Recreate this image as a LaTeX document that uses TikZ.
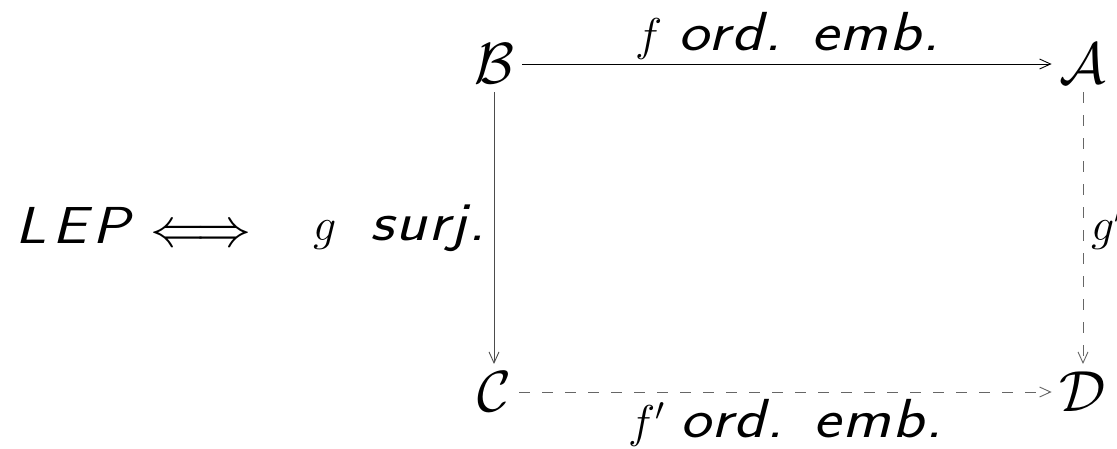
\RequirePackage{fix-cm}
\documentclass[tikz,border=0pt]{standalone}
\usepackage{fontspec}
\usetikzlibrary{arrows.meta}

\newfontfamily\lblfont{lmsans17-oblique.otf}[FakeStretch=1.18, LetterSpace=3]
\newcommand{\objsz}{\fontsize{58}{62}\selectfont}
\newcommand{\lblsz}{\fontsize{55}{60}\selectfont}
\newcommand{\mathsz}{\fontsize{46}{50}\selectfont}

\begin{document}
\begin{tikzpicture}[x=1pt, y=-1pt,
    obj/.style={inner sep=8pt, font=\objsz},
    lbl/.style={inner sep=0pt, anchor=base west, font=\lblsz\lblfont},
    map/.style={line width=0.9pt, -{Straight Barb[length=11pt,width=10pt]}},
    dmap/.style={map, black!60, dash pattern=on 11pt off 12pt}]
    \useasboundingbox (0,0) rectangle (1117,448);

    % the square
    \node[obj] (B) at (494, 64) {$\mathcal{B}$};
    \node[obj] (A) at (1083, 64) {$\mathcal{A}$};
    \node[obj] (C) at (494, 392) {$\mathcal{C}$};
    \node[obj] (D) at (1083, 392) {$\mathcal{D}$};

    \draw[map] (B) -- (A);
    \draw[map, black!70] (B) -- (C);
    \draw[dmap] (A) -- (D);
    \draw[dmap] (C) -- (D);

    % labels
    \node[lbl] (fl) at (635, 50) {{\mathsz$f$}\hspace{16pt}ord.\hspace{30pt}emb.};
    \node[lbl] (fpl) at (628, 437) {{\mathsz$f'$}\hspace{16pt}ord.\hspace{30pt}emb.};
    \node[lbl] (gl) at (313, 240) {{\mathsz$g$}\hspace{34pt}surj.};
    \node[lbl] (gpl) at (1091, 240) {{\mathsz$g'$}};

    \node[lbl, font=\fontsize{52}{56}\selectfont\lblfont] (lep) at (15, 243) {L\kern6pt E\kern6pt P};
    \node[inner sep=0pt, anchor=west, font=\fontsize{55}{58}\selectfont] (iff) at (150, 236) {$\Longleftrightarrow$};
\end{tikzpicture}
\end{document}
